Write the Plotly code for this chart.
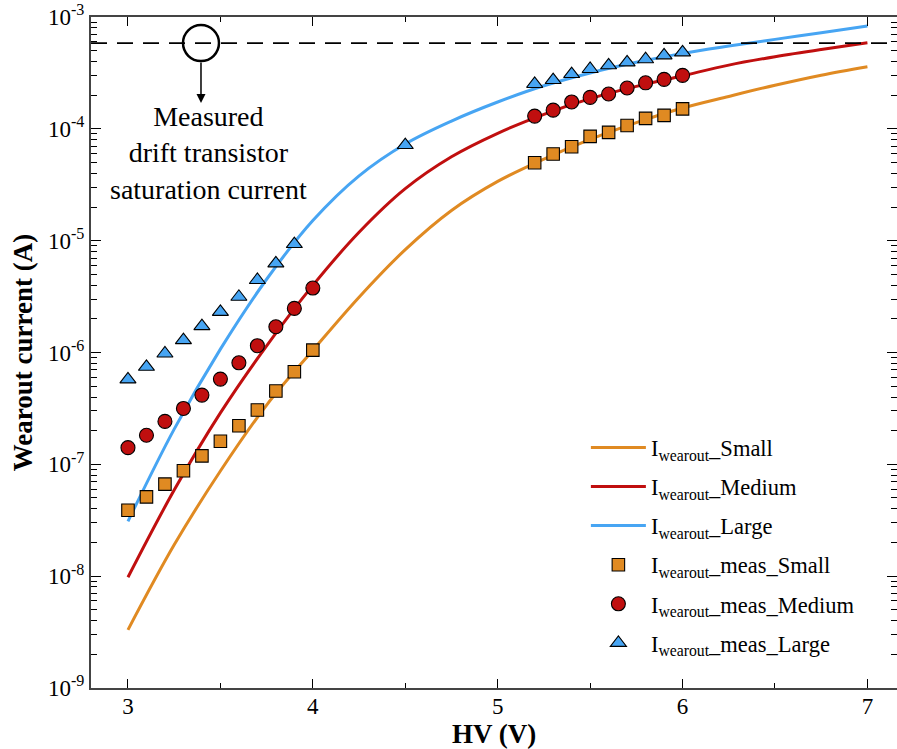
import math
import plotly.graph_objects as go

# ---- data ----
# model curves (log10 of current, A) read at these HV values
hv_line = [3.0, 3.25, 3.5, 3.75, 4.0, 4.25, 4.5, 4.75, 5.0, 5.25, 5.5, 5.75, 6.0, 6.25, 6.5, 6.75, 7.0]
log_small = [-8.48, -7.72, -7.06, -6.47, -5.98, -5.505, -5.08, -4.73, -4.47, -4.27, -4.095, -3.945, -3.814, -3.71, -3.61, -3.52, -3.444]
log_medium = [-8.01, -7.23, -6.54, -5.94, -5.40, -4.925, -4.535, -4.25, -4.04, -3.87, -3.73, -3.62, -3.525, -3.43, -3.355, -3.29, -3.23]
log_large = [-7.51, -6.685, -5.97, -5.345, -4.82, -4.42, -4.135, -3.93, -3.76, -3.615, -3.50, -3.405, -3.325, -3.26, -3.20, -3.14, -3.08]

hv_meas_small = [3.0, 3.1, 3.2, 3.3, 3.4, 3.5, 3.6, 3.7, 3.8, 3.9, 4.0,
                 5.2, 5.3, 5.4, 5.5, 5.6, 5.7, 5.8, 5.9, 6.0]
meas_small = [3.89e-8, 5.12e-8, 6.65e-8, 8.75e-8, 1.19e-7, 1.61e-7, 2.21e-7, 3.06e-7, 4.52e-7, 6.73e-7, 1.05e-6,
              4.98e-5, 5.96e-5, 6.92e-5, 8.57e-5, 9.30e-5, 1.07e-4, 1.24e-4, 1.32e-4, 1.51e-4]

hv_meas_medium = [3.0, 3.1, 3.2, 3.3, 3.4, 3.5, 3.6, 3.7, 3.8, 3.9, 4.0,
                  5.2, 5.3, 5.4, 5.5, 5.6, 5.7, 5.8, 5.9, 6.0]
meas_medium = [1.41e-7, 1.82e-7, 2.42e-7, 3.16e-7, 4.16e-7, 5.78e-7, 8.09e-7, 1.15e-6, 1.70e-6, 2.48e-6, 3.77e-6,
               1.30e-4, 1.47e-4, 1.74e-4, 1.91e-4, 2.05e-4, 2.32e-4, 2.58e-4, 2.77e-4, 3.01e-4]

hv_meas_large = [3.0, 3.1, 3.2, 3.3, 3.4, 3.5, 3.6, 3.7, 3.8, 3.9, 4.5,
                 5.2, 5.3, 5.4, 5.5, 5.6, 5.7, 5.8, 5.9, 6.0]
meas_large = [5.75e-7, 7.45e-7, 9.8e-7, 1.29e-6, 1.72e-6, 2.31e-6, 3.15e-6, 4.45e-6, 6.27e-6, 9.33e-6, 7.16e-5,
              2.52e-4, 2.73e-4, 3.09e-4, 3.43e-4, 3.70e-4, 3.93e-4, 4.19e-4, 4.54e-4, 4.83e-4]

sat_current = 5.85e-4
y_tick_vals = [1e-9, 1e-8, 1e-7, 1e-6, 1e-5, 1e-4, 1e-3]
y_tick_text = ["10<sup>-9</sup>", "10<sup>-8</sup>", "10<sup>-7</sup>", "10<sup>-6</sup>",
               "10<sup>-5</sup>", "10<sup>-4</sup>", "10<sup>-3</sup>"]
x_tick_vals = [3, 4, 5, 6, 7]

c_small = "#E08A22"
c_medium = "#C00F0F"
c_large = "#47A5F3"

FONT = "Liberation Serif"

fig = go.Figure()
legend_ids = ["legend", "legend2", "legend3", "legend4", "legend5", "legend6"]
k = 0
for name, logs, col in [("Small", log_small, c_small), ("Medium", log_medium, c_medium), ("Large", log_large, c_large)]:
    fig.add_trace(go.Scatter(
        x=hv_line, y=[10 ** v for v in logs], mode="lines",
        line=dict(color=col, width=3, shape="spline", smoothing=1.0),
        name="I<sub>wearout</sub>_" + name, legend=legend_ids[k]))
    k += 1

for name, xs, ys, col, sym, sz in [
        ("Small", hv_meas_small, meas_small, c_small, "square", 12.5),
        ("Medium", hv_meas_medium, meas_medium, c_medium, "circle", 14),
        ("Large", hv_meas_large, meas_large, c_large, "triangle-up", 14)]:
    fig.add_trace(go.Scatter(
        x=xs, y=ys, mode="markers",
        marker=dict(color=col, symbol=sym, size=sz, line=dict(color="black", width=1.1)),
        name="I<sub>wearout</sub>_meas_" + name, legend=legend_ids[k]))
    k += 1

y_sat_paper = (math.log10(sat_current) + 9) / 6.0

fig.add_shape(type="line", xref="paper", yref="paper", x0=0, x1=1,
              y0=y_sat_paper, y1=y_sat_paper,
              line=dict(color="black", width=1.8, dash="16px,10px"))
fig.add_shape(type="circle", xref="x", yref="paper",
              xsizemode="pixel", ysizemode="pixel",
              xanchor=3.395, yanchor=y_sat_paper,
              x0=-18, x1=18, y0=-18, y1=18,
              line=dict(color="black", width=2.5))
fig.add_annotation(x=3.395, xref="x", y=y_sat_paper, yref="paper", yshift=-60,
                   text="", showarrow=True, ax=0, ay=-42,
                   arrowhead=2, arrowsize=1.2, arrowwidth=1.5, arrowcolor="black", standoff=0)
fig.add_annotation(x=3.435, xref="x", y=y_sat_paper, yref="paper", yshift=-56,
                   text="Measured<br>drift transistor<br>saturation current",
                   showarrow=False, yanchor="top", xanchor="center",
                   font=dict(family=FONT, size=28, color="black"))

legend_layout = {}
for i, lid in enumerate(legend_ids):
    legend_layout[lid] = dict(x=0.614, y=0.358 - i * 0.05827, xanchor="left", yanchor="middle",
                              bgcolor="rgba(0,0,0,0)", font=dict(family=FONT, size=22.5),
                              itemwidth=55, tracegroupgap=0)

fig.update_layout(
    width=897, height=749,
    margin=dict(l=91, r=0, t=17, b=61),
    plot_bgcolor="white", paper_bgcolor="white",
    font=dict(family=FONT, color="black"),
    showlegend=True,
    xaxis=dict(range=[2.8, 7.16], tickvals=x_tick_vals, ticks="inside", ticklen=9,
               tickwidth=1.3, tickcolor="black",
               minor=dict(dtick=0.5, tick0=3, ticks="inside", ticklen=5, tickcolor="black"),
               showline=True, linecolor="#444", linewidth=2, mirror="ticks",
               showgrid=False, zeroline=False, automargin=False,
               ticklabelstandoff=-4, ticklabeloverflow="allow",
               tickfont=dict(family=FONT, size=23),
               title=dict(text="<b>HV (V)</b>", font=dict(family=FONT, size=27), standoff=4)),
    yaxis=dict(type="log", range=[-9.0002, -2.9998], tickvals=y_tick_vals, ticktext=y_tick_text,
               ticks="inside", ticklen=10, tickwidth=1.3, tickcolor="black",
               minor=dict(dtick="D1", ticks="inside", ticklen=6, tickcolor="black"),
               showline=True, linecolor="#444", linewidth=2, mirror="ticks",
               showgrid=False, zeroline=False, automargin=False,
               ticklabeloverflow="allow",
               tickfont=dict(family=FONT, size=23),
               title=dict(text="<b>Wearout current (A)</b>", font=dict(family=FONT, size=27), standoff=8)),
    **legend_layout,
)

fig.write_html("out.html", config={"displayModeBar": False},
               post_script="document.body.style.margin='0px';")
